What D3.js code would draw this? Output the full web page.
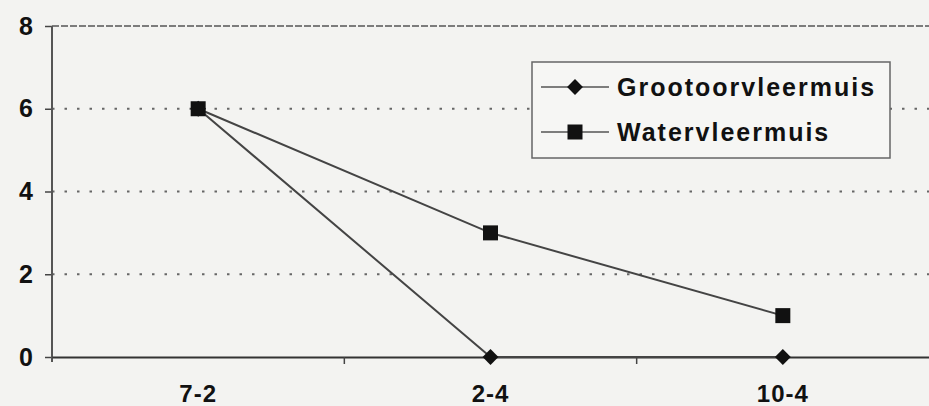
<!DOCTYPE html>
<html>
<head>
<meta charset="utf-8">
<script src="https://cdn.jsdelivr.net/npm/d3@7"></script>
<style>
  html, body { margin: 0; padding: 0; background: #f3f3f1; }
  svg { display: block; font-family: "Liberation Sans", Arial, sans-serif; }
</style>
</head>
<body>
<svg id="chart" width="929" height="406"></svg>
<script>
// Counts per survey date
const dates = ["7-2", "2-4", "10-4"];
const grootoor = [6, 0, 0];
const water = [6, 3, 1];
const yTicks = [0, 2, 4, 6, 8];
const seriesNames = ["Grootoorvleermuis", "Watervleermuis"];

const W = 929, H = 406;
const m = { left: 52, right: 0, top: 26, bottom: 49 };

const svg = d3.select("#chart");

const x = d3.scaleBand().domain(dates).range([m.left, W - m.right]);
const y = d3.scaleLinear().domain([0, 8]).range([H - m.bottom, m.top]);

// Horizontal gridlines
svg.append("g").selectAll("line")
  .data(yTicks.filter(d => d > 0))
  .join("line")
  .attr("x1", m.left).attr("x2", W)
  .attr("y1", d => y(d)).attr("y2", d => y(d))
  .attr("stroke", d => d === 8 ? "#555" : "#666")
  .attr("stroke-width", d => d === 8 ? 1.5 : 1.8)
  .attr("stroke-dasharray", d => d === 8 ? "7,2" : "2.5,10");

// Y axis
const yAxis = svg.append("g")
  .attr("transform", `translate(${m.left},0)`)
  .call(d3.axisLeft(y).tickValues(yTicks).tickSize(7).tickPadding(12));
yAxis.select(".domain").remove();
yAxis.selectAll(".tick line").attr("stroke", "#444").attr("stroke-width", 1.5);
yAxis.selectAll(".tick text")
  .attr("fill", "#111").attr("font-size", 25).attr("font-weight", "bold");
svg.append("line")
  .attr("x1", m.left).attr("x2", m.left)
  .attr("y1", m.top).attr("y2", y(0) + 5)
  .attr("stroke", "#555").attr("stroke-width", 2);

// X axis
const xAxis = svg.append("g")
  .attr("transform", `translate(0,${y(0)})`)
  .call(d3.axisBottom(x).tickSize(0).tickPadding(28));
xAxis.select(".domain").attr("stroke", "#333").attr("stroke-width", 2);
xAxis.selectAll(".tick text")
  .attr("fill", "#111").attr("font-size", 24).attr("font-weight", "bold")
  .attr("letter-spacing", 1);
// Category boundary ticks
svg.append("g").selectAll("line")
  .data(dates.slice(1))
  .join("line")
  .attr("x1", d => x(d)).attr("x2", d => x(d))
  .attr("y1", y(0)).attr("y2", y(0) + 7)
  .attr("stroke", "#444").attr("stroke-width", 1.5);

const cx = d => x(d) + x.bandwidth() / 2;
const line = d3.line().x((d, i) => cx(dates[i])).y(d => y(d));

// Series lines
[grootoor, water].forEach(vals => {
  svg.append("path")
    .datum(vals)
    .attr("d", line)
    .attr("fill", "none")
    .attr("stroke", "#444")
    .attr("stroke-width", 2);
});

const diamond = d3.symbol().type(d3.symbolDiamond2).size(160);
const square = d3.symbol().type(d3.symbolSquare).size(225);

svg.append("g").selectAll("path")
  .data(water).join("path")
  .attr("transform", (d, i) => `translate(${cx(dates[i])},${y(d)})`)
  .attr("d", square).attr("fill", "#111");

svg.append("g").selectAll("path")
  .data(grootoor).join("path")
  .attr("transform", (d, i) => `translate(${cx(dates[i])},${y(d)})`)
  .attr("d", diamond).attr("fill", "#111");

// Legend
const lg = svg.append("g");
lg.append("rect")
  .attr("x", 532).attr("y", 62).attr("width", 358).attr("height", 96)
  .attr("fill", "#f6f6f4").attr("stroke", "#666").attr("stroke-width", 1.5);
const items = [
  { name: seriesNames[0], sym: diamond, yy: 87 },
  { name: seriesNames[1], sym: square, yy: 132 }
];
items.forEach(it => {
  lg.append("line")
    .attr("x1", 541).attr("x2", 609).attr("y1", it.yy).attr("y2", it.yy)
    .attr("stroke", "#555").attr("stroke-width", 1.5);
  lg.append("path")
    .attr("transform", `translate(575,${it.yy})`)
    .attr("d", it.sym).attr("fill", "#111");
  lg.append("text")
    .attr("x", 617).attr("y", it.yy + 9)
    .attr("font-size", 25).attr("font-weight", "bold").attr("fill", "#111")
    .attr("letter-spacing", 2)
    .text(it.name);
});
</script>
</body>
</html>
